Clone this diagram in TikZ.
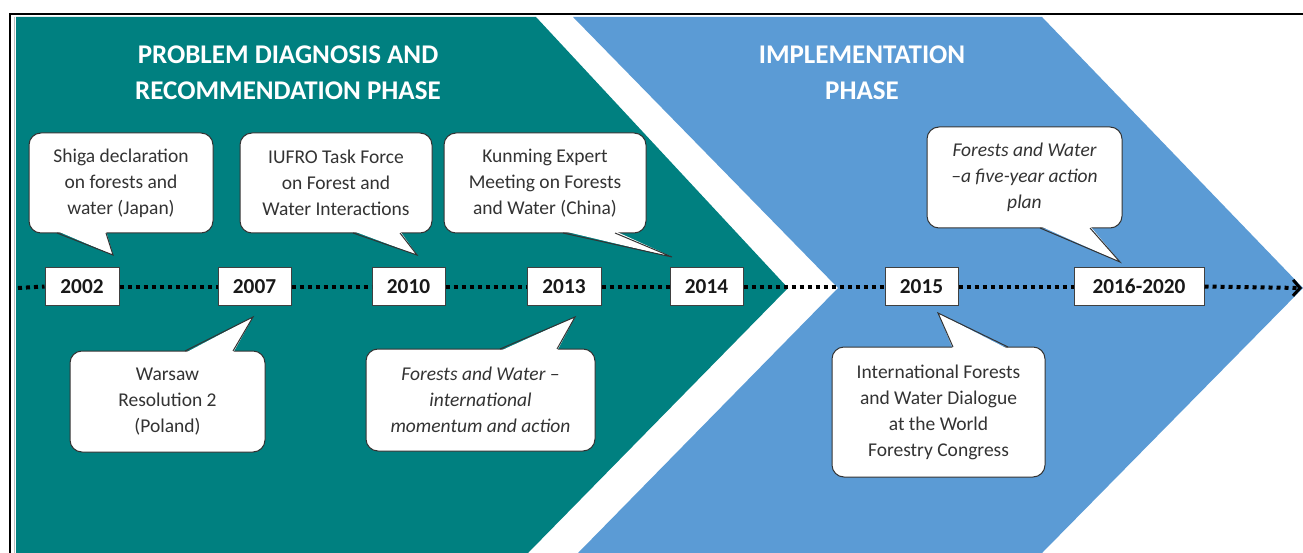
\documentclass[tikz,border=0pt]{standalone}
\usepackage{fontspec}
\setmainfont{Carlito}
\usetikzlibrary{arrows.meta}
\definecolor{tealphase}{HTML}{008080}
\definecolor{bluephase}{HTML}{5B9BD5}
\definecolor{txtgray}{HTML}{333333}
\begin{document}
\begin{tikzpicture}[x=1pt,y=-1pt,
  callout/.style={draw=black!80, line width=1pt, fill=white, rounded corners=12pt, align=center, text=txtgray, font=\fontsize{19.5}{26}\selectfont, inner sep=0pt},
  yearbox/.style={draw=black!75, line width=1pt, fill=white, font=\fontsize{21.3}{24}\selectfont\bfseries, minimum height=37pt, inner sep=0pt, text=black!90},
  phasetitle/.style={text=white, font=\fontsize{27}{36}\selectfont\bfseries, align=center},
  wedgefill/.style={fill=white},
  wedgeline/.style={draw=black!80, line width=1pt, line join=miter},
  timeline/.style={line width=4pt, dash pattern=on 4pt off 4pt, black}]
\useasboundingbox (0,0) rectangle (1303,553);
% frame
\draw[black, line width=1.5pt] (10,553) -- (10,14) -- (1303,14);
\draw[gray!50, line width=0.8pt] (14,553) -- (14,17);
% chevrons
\fill[tealphase] (16,17) -- (536,17) -- (788,288) -- (528,553) -- (16,553) -- cycle;
\fill[bluephase] (573,17) -- (1042,17) -- (1303,288) -- (1042,553) -- (578,553) -- (838,288) -- cycle;
% titles
\node[phasetitle] (t1) at (288,73) {PROBLEM DIAGNOSIS AND\\RECOMMENDATION PHASE};
\node[phasetitle] (t2) at (862,73) {IMPLEMENTATION\\PHASE};
% year boxes
\node[yearbox, minimum width=74pt] (y2002) at (82,286.5) {2002};
\node[yearbox, minimum width=73pt] (y2007) at (254.5,286.5) {2007};
\node[yearbox, minimum width=73pt] (y2010) at (408.5,286.5) {2010};
\node[yearbox, minimum width=74pt] (y2013) at (564,286.5) {2013};
\node[yearbox, minimum width=73pt] (y2014) at (706.5,286.5) {2014};
\node[yearbox, minimum width=73pt] (y2015) at (921.5,286.5) {2015};
\node[yearbox, minimum width=130pt] (y1620) at (1139,286.5) {2016-2020};
% timeline
\coordinate (tlstart) at (18,288);
\coordinate (tlend) at (1302,288);
\draw[timeline] (tlstart) -- (y2002.west);
\draw[timeline] (y2002.east) -- (y2007.west);
\draw[timeline] (y2007.east) -- (y2010.west);
\draw[timeline] (y2010.east) -- (y2013.west);
\draw[timeline] (y2013.east) -- (y2014.west);
\draw[timeline] (y2014.east) -- (y2015.west);
\draw[timeline] (y2015.east) -- (y1620.west);
\draw[timeline, -{Straight Barb[length=7pt,width=16pt,line width=3pt]}] (y1620.east) -- (tlend);
% callouts
\node[callout, minimum width=184pt, minimum height=100pt] (shiga) at (121,183) {Shiga declaration\\on forests and\\water (Japan)};
\coordinate (shigatip) at (113,255);
\fill[wedgefill] (57,231) -- (shigatip) -- (106,231) -- cycle;
\draw[wedgeline] (57,233) -- (shigatip) -- (106,233);

\node[callout, minimum width=192pt, minimum height=100pt] (iufro) at (336,183) {IUFRO Task Force\\on Forest and\\Water Interactions};
\coordinate (iufrotip) at (417,255);
\fill[wedgefill] (353,231) -- (iufrotip) -- (400,231) -- cycle;
\draw[wedgeline] (353,233) -- (iufrotip) -- (400,233);

\node[callout, minimum width=202pt, minimum height=100pt] (kunming) at (545,183) {Kunming Expert\\Meeting on Forests\\and Water (China)};
\coordinate (kunmingtip) at (672,257);
\fill[wedgefill] (563,231) -- (kunmingtip) -- (615,231) -- cycle;
\draw[wedgeline] (563,233) -- (kunmingtip) -- (615,233);

\node[callout, minimum width=195pt, minimum height=101pt] (plan) at (1024.5,177.5) {\itshape Forests and Water\\\itshape –a five-year action\\\itshape plan};
\coordinate (plantip) at (1120,262);
\fill[wedgefill] (1040,226) -- (plantip) -- (1090,226) -- cycle;
\draw[wedgeline] (1040,228) -- (plantip) -- (1090,228);

\node[callout, minimum width=195pt, minimum height=101pt] (warsaw) at (167.5,401.5) {Warsaw\\Resolution 2\\(Poland)};
\coordinate (warsawtip) at (253,317);
\fill[wedgefill] (185,353) -- (warsawtip) -- (233,353) -- cycle;
\draw[wedgeline] (185,351) -- (warsawtip) -- (233,351);

\node[callout, minimum width=229pt, minimum height=102pt] (momentum) at (480.5,400) {\itshape Forests and Water –\\\itshape international\\\itshape momentum and action};
\coordinate (momentumtip) at (575,317);
\fill[wedgefill] (500,351) -- (momentumtip) -- (557,351) -- cycle;
\draw[wedgeline] (500,349) -- (momentumtip) -- (557,349);

\node[callout, minimum width=213pt, minimum height=130pt] (dialogue) at (938.5,412) {International Forests\\and Water Dialogue\\at the World\\Forestry Congress};
\coordinate (dialoguetip) at (938,313);
\fill[wedgefill] (953,349) -- (dialoguetip) -- (1008,349) -- cycle;
\draw[wedgeline] (953,347) -- (dialoguetip) -- (1008,347);
\end{tikzpicture}
\end{document}
